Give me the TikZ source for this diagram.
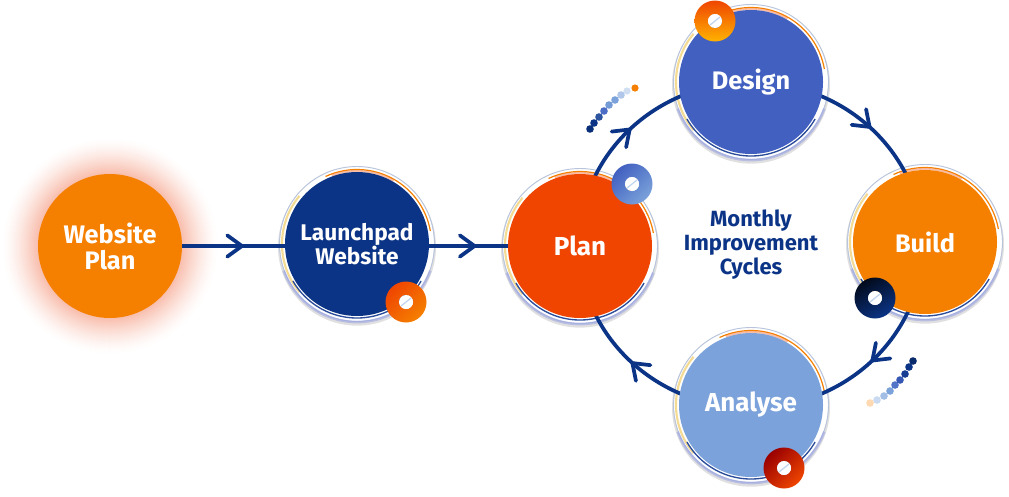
\documentclass[tikz,border=0pt]{standalone}
\usepackage{fontspec}
\setmainfont{Fira Sans}
\usetikzlibrary{arrows.meta,decorations.markings,calc}
\pgfdeclarelayer{glowlayer}
\pgfdeclarelayer{bg}
\pgfsetlayers{glowlayer,bg,main}

\definecolor{navy}{HTML}{0B3486}
\definecolor{orangeA}{HTML}{F58000}
\definecolor{redA}{HTML}{EF4500}
\definecolor{designC}{HTML}{4160C0}
\definecolor{analyseC}{HTML}{7BA2DA}
\definecolor{glowA}{HTML}{F49478}
\definecolor{ringgray}{HTML}{B8C4DC}
\definecolor{ringyel}{HTML}{F2D27A}
\definecolor{ringblue}{HTML}{2A4C9A}

\tikzset{
  stage/.style={circle, minimum size=108pt, inner sep=0pt, outer sep=0pt,
    text=white, align=center, font=\bfseries\fontsize{19}{19.5}\selectfont},
  flow/.style={navy, line width=2.8pt, postaction={decorate},
    decoration={markings, mark=at position #1 with {\arrow{Straight Barb[length=11pt,width=16pt,line width=2.8pt,round]}}}},
  flow/.default=0.5,
}

\newcommand\ringdeco[1]{%
  \fill[black!12] ([yshift=-2pt]#1.center) circle (79);
  \fill[white] (#1.center) circle (77);
  \draw[ringgray, line width=0.7pt] (#1.center) circle (77.5);
  \draw[ringyel, line width=1.6pt, opacity=0.8] (#1.center) ++(140:75) arc[start angle=140, end angle=220, radius=75];
  \draw[orangeA, line width=0.9pt] (#1.center) ++(-115:74.5) arc[start angle=-115, end angle=-10, radius=74.5];
  \draw[redA!70, line width=1.5pt, opacity=0.5] (#1.center) ++(-110:73) arc[start angle=-110, end angle=-60, radius=73];
  \draw[ringblue, line width=1pt] (#1.center) ++(30:74) arc[start angle=30, end angle=150, radius=74];
  \draw[ringgray!80!blue, line width=2pt, opacity=0.5] (#1.center) ++(20:78) arc[start angle=20, end angle=160, radius=78];
}
\newcommand\donut[4]{%
  \shade[even odd rule, left color=#3, right color=#4, shading angle=#2]
    (#1) circle (20.5) (#1) circle (7);
  \fill[white] (#1) circle (7);
  \draw[analyseC!45, line width=1pt] ($(#1)+(-5,4)$) -- ($(#1)+(5,-4)$);
}

\begin{document}
\begin{tikzpicture}[x=0.75pt,y=-0.75pt]
\useasboundingbox (0,0) rectangle (1009,496);

% stages
\node[stage, fill=orangeA] (web) at (110,246) {Website\\Plan};
\node[stage, fill=navy, font=\bfseries\fontsize{17}{18}\selectfont] (launch) at (357,244) {Launchpad\\Website};
\node[stage, fill=redA, font=\bfseries\fontsize{19.5}{20}\selectfont] (plan) at (580,246) {Plan};
\node[stage, fill=designC] (design) at (751,82) {Design};
\node[stage, fill=orangeA] (build) at (925,242) {Build};
\node[stage, fill=analyseC, font=\bfseries\fontsize{19.5}{20}\selectfont] (analyse) at (751,405) {Analyse};
\node[text=navy, align=center, font=\bfseries\fontsize{16.5}{18}\selectfont] (cycles) at (751,245) {Monthly\\Improvement\\Cycles};

% glow behind website plan
\begin{pgfonlayer}{glowlayer}
  \foreach \r in {108,107,...,72} {
    \pgfmathsetmacro\p{62*((108-\r)/36)^1.4}
    \fill[glowA!\p!white] (web.center) circle (\r);
  }
\end{pgfonlayer}

% rings and connectors
\begin{pgfonlayer}{bg}
  \ringdeco{launch}
  \ringdeco{plan}
  \ringdeco{design}
  \ringdeco{build}
  \ringdeco{analyse}
  \draw[flow=0.6] (web) -- (launch.west |- web);
  \draw[flow=0.6] (launch.east |- plan) -- (plan);
  \draw[flow] (cycles.center) ++(180:172 and 163) arc[start angle=180, end angle=270, x radius=172, y radius=163];
  \draw[flow] (cycles.center) ++(270:172 and 163) arc[start angle=270, end angle=360, x radius=172, y radius=163];
  \draw[flow] (cycles.center) ++(0:172 and 163) arc[start angle=0, end angle=90, x radius=172, y radius=163];
  \draw[flow] (cycles.center) ++(90:172 and 163) arc[start angle=90, end angle=180, x radius=172, y radius=163];
\end{pgfonlayer}

% donuts
\coordinate (d1) at (406,302);
\coordinate (d2) at (632,184);
\coordinate (d3) at (715,21);
\coordinate (d4) at (875,298);
\coordinate (d5) at (784,468);
\donut{d1}{45}{redA}{orangeA}
\donut{d2}{45}{designC}{analyseC}
\donut{d3}{0}{redA}{orange!60!yellow}
\donut{d4}{30}{black!80!navy}{navy}
\donut{d5}{45}{red!60!black}{redA}

% dotted arcs
\fill[navy!90!black] (590,129) circle (3.8);
\fill[navy] (594,123) circle (3.8);
\fill[navy!70!analyseC] (599,117) circle (3.8);
\fill[designC!80!analyseC] (604,111) circle (3.8);
\fill[analyseC!90!designC] (609,105) circle (3.8);
\fill[analyseC] (615,100) circle (3.8);
\fill[analyseC!60!white] (621,95) circle (3.8);
\fill[analyseC!35!white] (627,91) circle (3.6);
\fill[orangeA] (635,88) circle (3.6);

\fill[orange!30!white] (870,403) circle (3.8);
\fill[analyseC!40!white] (877,400) circle (3.8);
\fill[analyseC!70!white] (884,396) circle (3.8);
\fill[analyseC] (890,391) circle (3.8);
\fill[designC!70!analyseC] (895,385) circle (3.8);
\fill[designC!80!navy] (900,380) circle (3.8);
\fill[navy!80!designC] (905,374) circle (3.8);
\fill[navy] (909,367) circle (3.8);
\fill[navy!80!black] (913,361) circle (3.8);
\end{tikzpicture}
\end{document}
